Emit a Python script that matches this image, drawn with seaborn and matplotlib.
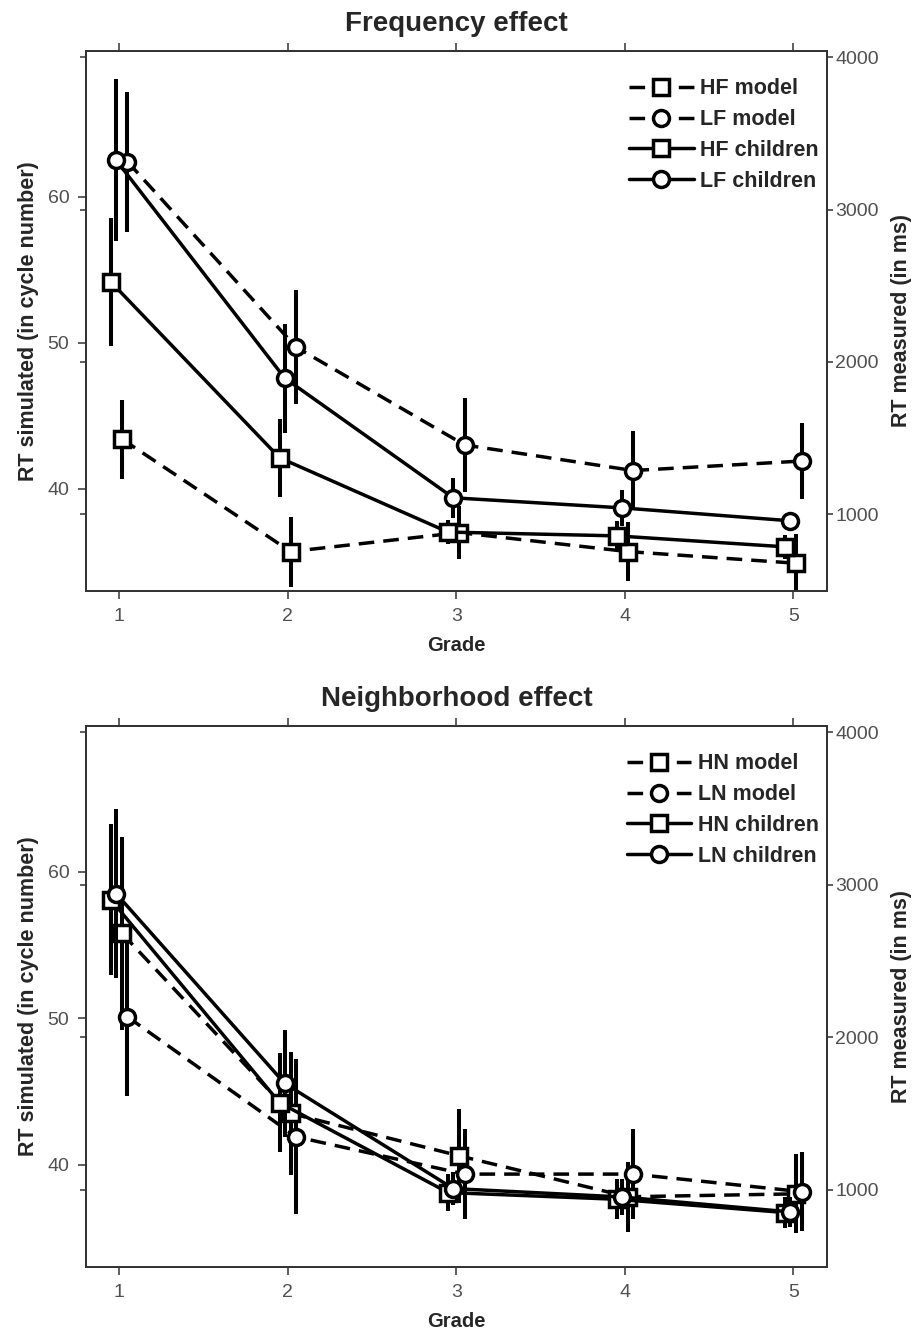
import numpy as np
import pandas as pd
import matplotlib
matplotlib.use("Agg")
import matplotlib.pyplot as plt
import seaborn as sns

# ---------------- data ----------------
grades = [1, 2, 3, 4, 5]

# Frequency effect
hf_model = [43.4, 35.7, 37.0, 35.7, 34.9]
hf_model_err = [2.7, 2.4, 1.8, 2.0, 2.0]
lf_model = [62.4, 49.7, 43.0, 41.25, 41.9]
lf_model_err = [4.8, 3.9, 3.2, 2.7, 2.6]
hf_children = [2524, 1370, 882, 857, 785]
hf_children_err = [422, 256, 77, 100, 80]
lf_children = [3324, 1893, 1107, 1041, 956]
lf_children_err = [533, 358, 130, 118, 50]

# Neighborhood effect
hn_model = [55.8, 43.5, 40.6, 37.8, 38.0]
hn_model_err = [6.6, 4.2, 3.2, 2.4, 2.7]
ln_model = [50.1, 41.9, 39.35, 39.35, 38.15]
ln_model_err = [5.4, 5.3, 3.1, 3.1, 2.7]
hn_children = [2902, 1572, 983, 939, 852]
hn_children_err = [494, 325, 120, 130, 100]
ln_children = [2942, 1698, 1009, 954, 856]
ln_children_err = [552, 349, 110, 120, 100]

left_ticks = [40, 50, 60]
right_ticks = [1000, 2000, 3000, 4000]

# ---------------- style ----------------
sns.set_style("ticks")
plt.rcParams['font.family'] = ['Liberation Sans', 'DejaVu Sans']

FIG_W, FIG_H = 920, 1331
fig = plt.figure(figsize=(FIG_W / 100, FIG_H / 100), dpi=100)

SPINE = '#333333'
TICKC = '#505050'


def panel(rect, title, series_model, series_child, labels):
    ax = fig.add_axes(rect)
    ax2 = ax.twinx()
    offs = {'Hm': 0.018, 'Lm': 0.05, 'Hc': -0.048, 'Lc': -0.017}
    # model -> left axis
    for key, (vals, errs), marker, lab in zip(['Hm', 'Lm'], series_model, ['s', 'o'], labels[:2]):
        x = np.array(grades) + offs[key]
        ax.vlines(x, np.array(vals) - np.array(errs), np.array(vals) + np.array(errs),
                  color='black', lw=2.9, zorder=2)
        sns.lineplot(x=x, y=vals, ax=ax, color='black', linestyle=(0, (4.5, 2.6)), lw=2.5,
                     marker=marker, markersize=11.5, markerfacecolor='white',
                     markeredgecolor='black', markeredgewidth=2.5, zorder=3, label=lab,
                     legend=False)
    # children -> right axis
    for key, (vals, errs), marker, lab in zip(['Hc', 'Lc'], series_child, ['s', 'o'], labels[2:]):
        x = np.array(grades) + offs[key]
        ax2.vlines(x, np.array(vals) - np.array(errs), np.array(vals) + np.array(errs),
                   color='black', lw=2.9, zorder=2)
        sns.lineplot(x=x, y=vals, ax=ax2, color='black', linestyle='-', lw=2.5,
                     marker=marker, markersize=11.5, markerfacecolor='white',
                     markeredgecolor='black', markeredgewidth=2.5, zorder=3, label=lab,
                     legend=False)

    ax.set_xlim(0.804, 5.2)
    ax.set_ylim(33, 70)
    ax2.set_ylim(495, 4043)
    ax.set_xticks(grades)
    ax.set_xticklabels([str(g) for g in grades])
    ax.set_yticks(left_ticks)
    ax2.set_yticks(right_ticks)

    for a in (ax, ax2):
        for s in a.spines.values():
            s.set_color(SPINE)
            s.set_linewidth(1.3)
    ax.tick_params(axis='x', which='major', direction='out', length=6, width=1.1,
                   color=SPINE, top=True, bottom=True, labeltop=False,
                   labelsize=14, labelcolor=TICKC, pad=6)
    ax.tick_params(axis='y', which='major', direction='out', length=6, width=1.1,
                   color=SPINE, left=True, right=False, labelsize=14, labelcolor=TICKC, pad=6)
    ax2.tick_params(axis='y', which='major', direction='out', length=4, width=1.1,
                    color=SPINE, left=True, right=True, labelleft=False, labelright=True,
                    labelsize=14, labelcolor=TICKC, pad=2)

    ax.set_xlabel('Grade', fontsize=14.5, fontweight='bold', labelpad=8)
    ax.set_ylabel('RT simulated (in cycle number)', fontsize=15.5, fontweight='bold', labelpad=6)
    ax2.set_ylabel('RT measured (in ms)', fontsize=15.5, fontweight='bold', labelpad=9)
    ax.set_title(title, fontsize=20, fontweight='bold', pad=14)

    h1, l1 = ax.get_legend_handles_labels()
    h2, l2 = ax2.get_legend_handles_labels()
    ax2.legend(h1 + h2, l1 + l2, loc='upper right', frameon=False,
               prop={'weight': 'bold', 'size': 15.5}, handlelength=3.0,
               handletextpad=0.3, labelspacing=0.46, borderaxespad=0.3,
               numpoints=1, bbox_to_anchor=(1.009, 0.977))
    return ax, ax2


top_rect = [86 / FIG_W, 1 - 591 / FIG_H, (827 - 86) / FIG_W, (591 - 50.7) / FIG_H]
bot_rect = [86 / FIG_W, 1 - 1267 / FIG_H, (827 - 86) / FIG_W, (1267 - 725.7) / FIG_H]

panel(top_rect, 'Frequency effect',
      [(hf_model, hf_model_err), (lf_model, lf_model_err)],
      [(hf_children, hf_children_err), (lf_children, lf_children_err)],
      ['HF model', 'LF model', 'HF children', 'LF children'])
panel(bot_rect, 'Neighborhood effect',
      [(hn_model, hn_model_err), (ln_model, ln_model_err)],
      [(hn_children, hn_children_err), (ln_children, ln_children_err)],
      ['HN model', 'LN model', 'HN children', 'LN children'])

fig.savefig('out.png', dpi=100, facecolor='white')
